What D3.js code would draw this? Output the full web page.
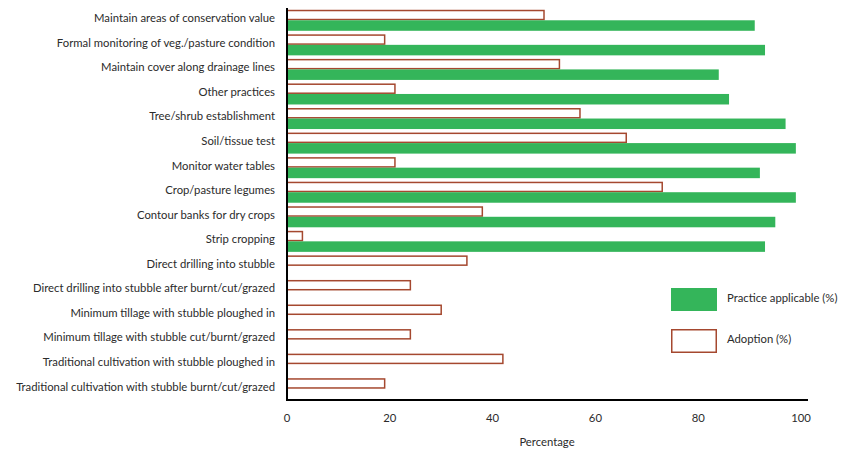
<!DOCTYPE html>
<html><head><meta charset="utf-8">
<script src="https://cdn.jsdelivr.net/npm/d3@7"></script>
<style>body{margin:0;background:#fff;} text{font-family:Lato, "Open Sans", sans-serif; fill:#2b2b2b;}</style>
</head><body><svg id="c" width="854" height="454"></svg>
<script>
const categories = [
  "Maintain areas of conservation value",
  "Formal monitoring of veg./pasture condition",
  "Maintain cover along drainage lines",
  "Other practices",
  "Tree/shrub establishment",
  "Soil/tissue test",
  "Monitor water tables",
  "Crop/pasture legumes",
  "Contour banks for dry crops",
  "Strip cropping",
  "Direct drilling into stubble",
  "Direct drilling into stubble after burnt/cut/grazed",
  "Minimum tillage with stubble ploughed in",
  "Minimum tillage with stubble cut/burnt/grazed",
  "Traditional cultivation with stubble ploughed in",
  "Traditional cultivation with stubble burnt/cut/grazed"
];
const applicable = [91, 93, 84, 86, 97, 99, 92, 99, 95, 93, null, null, null, null, null, null];
const adoption = [50, 19, 53, 21, 57, 66, 21, 73, 38, 3, 35, 24, 30, 24, 42, 19];
const xTicks = [0, 20, 40, 60, 80, 100];
const seriesNames = ["Practice applicable (%)", "Adoption (%)"];

const green = "#34b55a", brown = "#a5482f";
const fs = 11.3;
const svg = d3.select("#c");
const x = d3.scaleLinear().domain([0, 100]).range([287, 801]);
const y = d3.scaleBand().domain(categories).range([8, 401]).paddingInner(0.144).paddingOuter(0.072);
const bh = y.bandwidth() / 2;

// adoption bars
svg.append("g").selectAll("rect").data(categories).join("rect")
  .attr("x", x(0)).attr("y", d => y(d) + 0.75)
  .attr("width", (d, i) => x(adoption[i]) - x(0))
  .attr("height", bh - 1.5)
  .attr("fill", "#fff").attr("stroke", brown).attr("stroke-width", 1.5);

// applicable bars
svg.append("g").selectAll("rect").data(categories.filter((d, i) => applicable[i] != null)).join("rect")
  .attr("x", x(0)).attr("y", d => y(d) + bh)
  .attr("width", d => x(applicable[categories.indexOf(d)]) - x(0))
  .attr("height", bh)
  .attr("fill", green);

// y axis
svg.append("line").attr("x1", x(0)).attr("x2", x(0)).attr("y1", 8).attr("y2", 400)
  .attr("stroke", "#000").attr("stroke-width", 2);
svg.append("g").selectAll("text").data(categories).join("text")
  .attr("x", 275).attr("y", d => y(d) + bh - 1)
  .attr("text-anchor", "end").attr("dominant-baseline", "middle")
  .attr("font-size", fs).text(d => d);

// x axis
svg.append("line").attr("x1", x(0) - 1).attr("x2", 808).attr("y1", 400).attr("y2", 400)
  .attr("stroke", "#000").attr("stroke-width", 2);
svg.append("g").selectAll("text").data(xTicks).join("text")
  .attr("x", d => x(d)).attr("y", 419).attr("text-anchor", "middle")
  .attr("dominant-baseline", "middle").attr("font-size", fs).text(d => d);
svg.append("text").attr("x", 547).attr("y", 443).attr("text-anchor", "middle")
  .attr("dominant-baseline", "middle").attr("font-size", fs).text("Percentage");

// legend
const lg = svg.append("g");
lg.append("rect").attr("x", 671).attr("y", 288).attr("width", 46).attr("height", 23).attr("fill", green);
lg.append("rect").attr("x", 671.75).attr("y", 329.75).attr("width", 44.5).attr("height", 22.5)
  .attr("fill", "#fff").attr("stroke", brown).attr("stroke-width", 1.5);
lg.append("text").attr("x", 727).attr("y", 299).attr("dominant-baseline", "middle").attr("font-size", fs).text(seriesNames[0]);
lg.append("text").attr("x", 727).attr("y", 340).attr("dominant-baseline", "middle").attr("font-size", fs).text(seriesNames[1]);
</script></body></html>
